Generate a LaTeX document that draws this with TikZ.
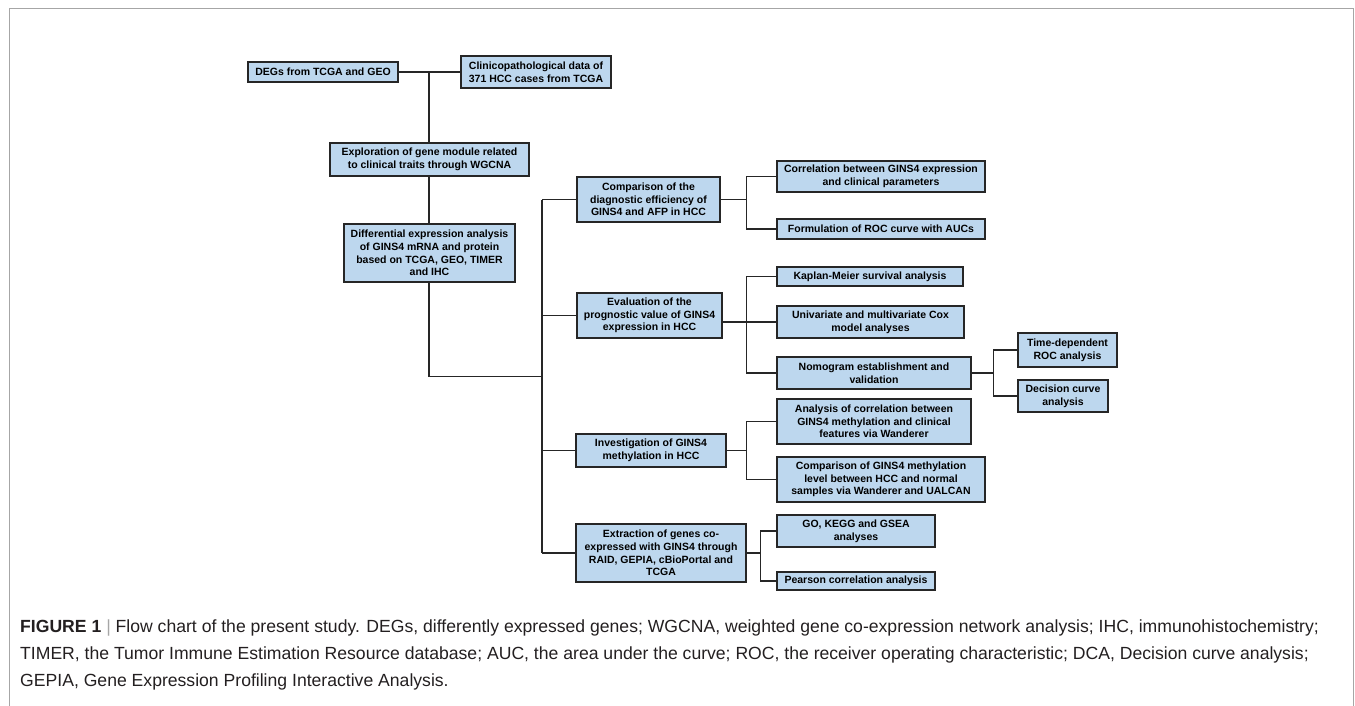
\documentclass[tikz,border=0pt]{standalone}
\usepackage{fontspec}
\setmainfont{Liberation Sans}
\definecolor{boxfill}{RGB}{189,215,238}
\definecolor{boxline}{RGB}{38,38,38}
\definecolor{framegray}{RGB}{166,166,166}
\definecolor{captext}{RGB}{35,31,32}
\newcommand\bxfont{\bfseries\fontsize{10.5}{12.6}\selectfont}
\newcommand\cpfont{\fontsize{17.6}{27}\selectfont}
\begin{document}
\begin{tikzpicture}[x=1pt,y=-1pt,
  box/.style={draw=boxline, line width=1.4pt, fill=boxfill, inner sep=0pt, align=center, font=\bxfont},
  conn/.style={draw=boxline, line width=1.2pt},
  captxt/.style={anchor=base west, inner sep=0pt, font=\cpfont, text=captext}]
\useasboundingbox (0,0) rectangle (1355,705);
% frame
\draw[framegray, line width=1.5pt] (9.3,706) -- (9.3,8.3) -- (1353.6,8.3) -- (1353.6,706);

% boxes
\node[box, minimum width=150pt, minimum height=20pt] (degs) at (323,72) {DEGs from TCGA and GEO};
\node[box, minimum width=150pt, minimum height=32pt] (clin) at (536,72) {Clinicopathological data of\\371 HCC cases from TCGA};
\node[box, minimum width=199pt, minimum height=33pt] (explo) at (429.5,159.5) {Exploration of gene module related\\to clinical traits through WGCNA};
\node[box, minimum width=171pt, minimum height=58pt] (diff) at (429.5,253) {Differential expression analysis\\of GINS4 mRNA and protein\\based on TCGA, GEO, TIMER\\and IHC};

\node[box, minimum width=143pt, minimum height=45pt] (comp) at (648.5,199.5) {Comparison of the\\diagnostic efficiency of\\GINS4 and AFP in HCC};
\node[box, minimum width=145pt, minimum height=45pt] (eval) at (649.5,315.5) {Evaluation of the\\prognostic value of GINS4\\expression in HCC};
\node[box, minimum width=150pt, minimum height=33pt] (inv) at (651,450.5) {Investigation of GINS4\\methylation in HCC};
\node[box, minimum width=170pt, minimum height=58pt] (extr) at (661,553) {Extraction of genes co-\\expressed with GINS4 through\\RAID, GEPIA, cBioPortal and\\TCGA};

\node[box, minimum width=208pt, minimum height=31pt] (corr) at (881,176.5) {Correlation between GINS4 expression\\and clinical parameters};
\node[box, minimum width=208pt, minimum height=20pt] (form) at (881,229) {Formulation of ROC curve with AUCs};
\node[box, minimum width=186pt, minimum height=19pt] (kap) at (870,276.5) {Kaplan-Meier survival analysis};
\node[box, minimum width=187pt, minimum height=32pt] (univ) at (870.5,322) {Univariate and multivariate Cox\\model analyses};
\node[box, minimum width=194pt, minimum height=32pt] (nomo) at (874,373) {Nomogram establishment and\\validation};
\node[box, minimum width=99pt, minimum height=34pt] (time) at (1067.5,350) {Time-dependent\\ROC analysis};
\node[box, minimum width=90pt, minimum height=32pt] (dec) at (1063,396) {Decision curve\\analysis};
\node[box, minimum width=194pt, minimum height=45pt] (anal) at (874,421.5) {Analysis of correlation between\\GINS4 methylation and clinical\\features via Wanderer};
\node[box, minimum width=208pt, minimum height=45pt] (cmeth) at (881,479.5) {Comparison of GINS4 methylation\\level between HCC and normal\\samples via Wanderer and UALCAN};
\node[box, minimum width=158pt, minimum height=32pt] (go) at (856,531) {GO, KEGG and GSEA\\analyses};
\node[box, minimum width=158pt, minimum height=18pt] (pear) at (856,581) {Pearson correlation analysis};

% junction coordinates
\coordinate (j1) at (429,72);
\coordinate (j2) at (429,376.3);
\coordinate (ttop) at (542,199.5);
\coordinate (tbot) at (542,553);
\coordinate (b1) at (746.3,0);
\coordinate (b3) at (993.5,0);
\coordinate (b4) at (760.7,0);

% connectors
\draw[conn] (degs.east) -- (clin.west);
\draw[conn] (j1) -- (j1 |- explo.north);
\draw[conn] (j1 |- explo.south) -- (j1 |- diff.north);
\draw[conn] (j1 |- diff.south) -- (j2) -- (j2 -| ttop);
\draw[conn] (ttop) -- (tbot);
\draw[conn] (ttop) -- (comp.west);
\draw[conn] (ttop |- eval.west) -- (eval.west);
\draw[conn] (ttop |- inv.west) -- (inv.west);
\draw[conn] (tbot) -- (tbot -| extr.west);

\draw[conn] (corr.west) -- (corr.west -| b1) |- (form.west);
\draw[conn] (comp.east) -- (comp.east -| b1);

\draw[conn] (kap.west) -- (kap.west -| b1) |- (nomo.west);
\draw[conn] (eval.east |- univ.west) -- (univ.west);

\draw[conn] (time.west) -- (time.west -| b3) |- (dec.west);
\draw[conn] (nomo.east) -- (nomo.east -| b3);

\draw[conn] (anal.west) -- (anal.west -| b1) |- (cmeth.west);
\draw[conn] (inv.east) -- (inv.east -| b1);

\draw[conn] (go.west) -- (go.west -| b4) |- (pear.west);
\draw[conn] (extr.east) -- (extr.east -| b4);

% caption
\node[captxt] (cap1) at (20,632) {\textbf{FIGURE 1} \textcolor{framegray}{|} Flow chart of the present study. DEGs, differently expressed genes; WGCNA, weighted gene co-expression network analysis; IHC, immunohistochemistry;};
\node[captxt] (cap2) at (20,659) {TIMER, the Tumor Immune Estimation Resource database; AUC, the area under the curve; ROC, the receiver operating characteristic; DCA, Decision curve analysis;};
\node[captxt] (cap3) at (20,686) {GEPIA, Gene Expression Profiling Interactive Analysis.};
\end{tikzpicture}
\end{document}
